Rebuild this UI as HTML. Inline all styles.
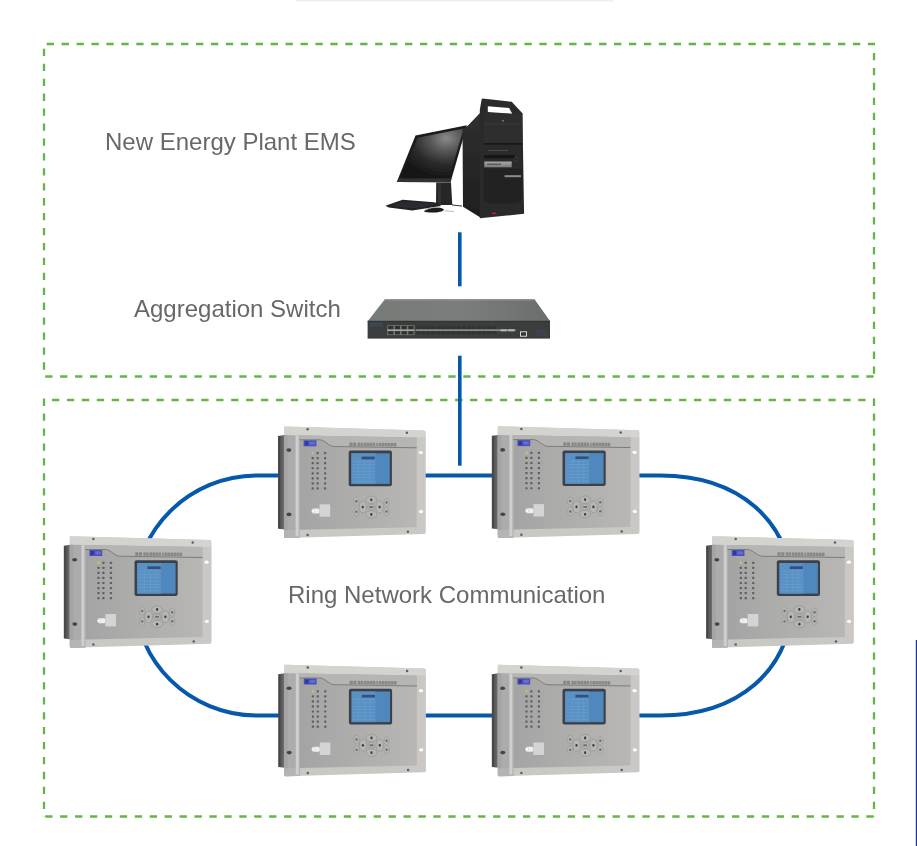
<!DOCTYPE html>
<html><head><meta charset="utf-8"><style>
html,body{margin:0;padding:0;background:#fff;}
body{width:917px;height:846px;position:relative;overflow:hidden;font-family:"Liberation Sans",sans-serif;}
.t{position:absolute;font-size:24px;color:#686868;will-change:transform;white-space:nowrap;line-height:normal;}
svg{position:absolute;left:0;top:0;}
</style></head><body>
<svg width="917" height="846" viewBox="0 0 917 846">
<defs>
<linearGradient id="sideg" x1="0" x2="1" y1="0" y2="0"><stop offset="0" stop-color="#4a4a4a"/><stop offset="0.5" stop-color="#5a5a5a"/><stop offset="1" stop-color="#747474"/></linearGradient>
<linearGradient id="panelg" x1="0" x2="1" y1="0" y2="0"><stop offset="0" stop-color="#a4a4a4"/><stop offset="0.4" stop-color="#acacab"/><stop offset="1" stop-color="#b8b7b4"/></linearGradient>
<linearGradient id="scrg" x1="0" x2="1" y1="0" y2="1"><stop offset="0" stop-color="#8fb6da"/><stop offset="1" stop-color="#6d9cc6"/></linearGradient>
<radialGradient id="monG" cx="0.72" cy="0.2" r="0.8"><stop offset="0" stop-color="#8a8a8a"/><stop offset="0.3" stop-color="#5a5a5a"/><stop offset="0.65" stop-color="#2c2c2c"/><stop offset="1" stop-color="#161616"/></radialGradient>
<linearGradient id="swTop" x1="0" x2="1" y1="0" y2="0"><stop offset="0" stop-color="#767a78"/><stop offset="0.5" stop-color="#7a7e7c"/><stop offset="1" stop-color="#6a6e6c"/></linearGradient>
<linearGradient id="towerSide" x1="0" x2="0" y1="0" y2="1"><stop offset="0" stop-color="#303030"/><stop offset="1" stop-color="#1e1e1e"/></linearGradient>
<linearGradient id="silverG" x1="0" x2="0" y1="0" y2="1"><stop offset="0" stop-color="#a8a8a8"/><stop offset="1" stop-color="#7a7a7a"/></linearGradient>
<filter id="soft" x="-10%" y="-10%" width="120%" height="120%"><feGaussianBlur stdDeviation="0.45"/></filter><filter id="soft2" x="-10%" y="-10%" width="120%" height="120%"><feGaussianBlur stdDeviation="0.35"/></filter>
<symbol id="dev" overflow="visible">
<path d="M-6 9.5 L0.5 8.6 L0.5 103 L-6 102.3 Z" fill="url(#sideg)"/>
<rect x="-5.2" y="10" width="1.2" height="91.5" fill="#3e3e3e" opacity="0.6"/>
<path d="M1.2 0 L140 3.9 Q141.5 4.1 141.5 5.5 L141.5 106.2 Q141.5 107.5 140 107.6 L1.2 111.6 Q0 111.6 0 110.4 L0 1.2 Q0 0 1.2 0 Z" fill="#c8c9c5"/>
<path d="M1.2 0 L140 3.9 Q141.5 4.1 141.5 5.5 L141.5 10.9 L0 8.6 L0 1.2 Q0 0 1.2 0 Z" fill="#d3d4d0"/>
<path d="M0 8.6 L15.6 8.9 L15.6 111.2 L1.2 111.6 Q0 111.6 0 110.4 Z" fill="#acacac"/>
<path d="M0 103.6 L15.6 103.2 L15.6 111.2 L1.2 111.6 Q0 111.6 0 110.4 Z" fill="#b4b4b2"/>
<rect x="0" y="8.6" width="3.5" height="95" fill="#a4a4a4"/>
<rect x="11.6" y="8.8" width="3" height="101" fill="#cfcfcf"/>
<path d="M132.7 10.9 L141.5 11 L141.5 106.2 L132.7 106.5 Z" fill="#cbc7c5"/>
<path d="M15.6 8.9 L132.7 10.9 L132.7 100.8 L15.6 103.2 Z" fill="url(#panelg)"/>
<path d="M15.6 8.9 L132.7 10.9 L132.7 21.3 L50.2 20 C45 20 40.5 13.3 35.5 13.3 L15.6 13.3 Z" fill="#b5b5b3"/>
<path d="M15.6 13.3 H35.5 C40.5 13.3 45 20 50.2 20 L132.7 21.3" fill="none" stroke="#7c7c7c" stroke-width="1"/>
<ellipse cx="136.8" cy="26" rx="2.1" ry="1.6" fill="#ffffff"/>
<ellipse cx="137" cy="85.1" rx="2.1" ry="1.6" fill="#ffffff"/>
<ellipse cx="4.8" cy="23.6" rx="2.5" ry="1.8" fill="#454545"/>
<ellipse cx="5" cy="87.9" rx="2.5" ry="1.8" fill="#454545"/>
<circle cx="23.6" cy="2.7" r="1.25" fill="#5e5e5e"/>
<circle cx="122.9" cy="6.2" r="1.25" fill="#5e5e5e"/>
<circle cx="23.6" cy="108.4" r="1.25" fill="#5e5e5e"/>
<circle cx="123.9" cy="105.3" r="1.25" fill="#5e5e5e"/>
<rect x="19.6" y="13.8" width="12.8" height="6" fill="#4850bc"/>
<rect x="21" y="14.8" width="3" height="4" fill="#2c3290" opacity="0.8"/><rect x="25.5" y="15.2" width="5.5" height="3" fill="#7a82d8" opacity="0.6"/>
<rect x="65.4" y="16.05" width="3.2" height="3.4" fill="#5a5a5a" opacity="0.5"/>
<rect x="69.2" y="16.09" width="3.0" height="3.4" fill="#5a5a5a" opacity="0.5"/>
<rect x="73.6" y="16.14" width="2.4" height="3.4" fill="#5a5a5a" opacity="0.5"/>
<rect x="76.4" y="16.16" width="2.4" height="3.4" fill="#5a5a5a" opacity="0.5"/>
<rect x="79.6" y="16.20" width="2.6" height="3.4" fill="#5a5a5a" opacity="0.5"/>
<rect x="82.6" y="16.23" width="2.6" height="3.4" fill="#5a5a5a" opacity="0.5"/>
<rect x="85.6" y="16.26" width="2.6" height="3.4" fill="#5a5a5a" opacity="0.5"/>
<rect x="88.6" y="16.29" width="2.6" height="3.4" fill="#5a5a5a" opacity="0.5"/>
<rect x="92.2" y="16.32" width="1.6" height="3.4" fill="#5a5a5a" opacity="0.5"/>
<rect x="94.6" y="16.35" width="2.6" height="3.4" fill="#5a5a5a" opacity="0.5"/>
<rect x="97.6" y="16.38" width="2.6" height="3.4" fill="#5a5a5a" opacity="0.5"/>
<rect x="100.6" y="16.41" width="2.6" height="3.4" fill="#5a5a5a" opacity="0.5"/>
<rect x="103.6" y="16.44" width="2.6" height="3.4" fill="#5a5a5a" opacity="0.5"/>
<rect x="106.6" y="16.47" width="2.6" height="3.4" fill="#5a5a5a" opacity="0.5"/>
<rect x="109.6" y="16.50" width="2.8" height="3.4" fill="#5a5a5a" opacity="0.5"/>
<rect x="27.60" y="25.50" width="2.2" height="2.2" rx="0.6" fill="#c4c77a"/>
<rect x="32.50" y="25.50" width="2.2" height="2.2" rx="0.6" fill="#5e5e5e"/>
<rect x="40.00" y="25.50" width="2.2" height="2.2" rx="0.6" fill="#5e5e5e"/>
<rect x="27.60" y="30.55" width="2.2" height="2.2" rx="0.6" fill="#5e5e5e"/>
<rect x="32.50" y="30.55" width="2.2" height="2.2" rx="0.6" fill="#5e5e5e"/>
<rect x="40.00" y="30.55" width="2.2" height="2.2" rx="0.6" fill="#5e5e5e"/>
<rect x="27.60" y="35.60" width="2.2" height="2.2" rx="0.6" fill="#5e5e5e"/>
<rect x="32.50" y="35.60" width="2.2" height="2.2" rx="0.6" fill="#5e5e5e"/>
<rect x="40.00" y="35.60" width="2.2" height="2.2" rx="0.6" fill="#5e5e5e"/>
<rect x="27.60" y="40.65" width="2.2" height="2.2" rx="0.6" fill="#5e5e5e"/>
<rect x="32.50" y="40.65" width="2.2" height="2.2" rx="0.6" fill="#5e5e5e"/>
<rect x="40.00" y="40.65" width="2.2" height="2.2" rx="0.6" fill="#5e5e5e"/>
<rect x="27.60" y="45.70" width="2.2" height="2.2" rx="0.6" fill="#5e5e5e"/>
<rect x="32.50" y="45.70" width="2.2" height="2.2" rx="0.6" fill="#5e5e5e"/>
<rect x="40.00" y="45.70" width="2.2" height="2.2" rx="0.6" fill="#5e5e5e"/>
<rect x="27.60" y="50.75" width="2.2" height="2.2" rx="0.6" fill="#5e5e5e"/>
<rect x="32.50" y="50.75" width="2.2" height="2.2" rx="0.6" fill="#5e5e5e"/>
<rect x="40.00" y="50.75" width="2.2" height="2.2" rx="0.6" fill="#5e5e5e"/>
<rect x="27.60" y="55.80" width="2.2" height="2.2" rx="0.6" fill="#5e5e5e"/>
<rect x="32.50" y="55.80" width="2.2" height="2.2" rx="0.6" fill="#5e5e5e"/>
<rect x="40.00" y="55.80" width="2.2" height="2.2" rx="0.6" fill="#5e5e5e"/>
<rect x="27.60" y="60.85" width="2.2" height="2.2" rx="0.6" fill="#5e5e5e"/>
<rect x="32.50" y="60.85" width="2.2" height="2.2" rx="0.6" fill="#5e5e5e"/>
<rect x="40.00" y="60.85" width="2.2" height="2.2" rx="0.6" fill="#5e5e5e"/>
<rect x="64.7" y="24.1" width="43.2" height="35.7" rx="2" fill="#3c4048"/>
<rect x="67.4" y="26.8" width="38.4" height="30.6" fill="#5088bd"/>
<rect x="67.4" y="26.8" width="24" height="30.6" fill="#5a91c5"/>
<rect x="77.6" y="30.1" width="13.2" height="2.7" fill="#34507c"/>
<rect x="68.5" y="34.6" width="22" height="0.5" fill="#8fbce6" opacity="0.35"/>
<rect x="68.5" y="37.9" width="22" height="0.5" fill="#8fbce6" opacity="0.35"/>
<rect x="68.5" y="41.2" width="22" height="0.5" fill="#8fbce6" opacity="0.35"/>
<rect x="68.5" y="44.5" width="22" height="0.5" fill="#8fbce6" opacity="0.35"/>
<rect x="68.5" y="47.8" width="22" height="0.5" fill="#8fbce6" opacity="0.35"/>
<rect x="68.5" y="51.1" width="22" height="0.5" fill="#8fbce6" opacity="0.35"/>
<rect x="68.5" y="54.4" width="22" height="0.5" fill="#8fbce6" opacity="0.35"/>
<rect x="74.2" y="33.5" width="0.5" height="23" fill="#8fbce6" opacity="0.3"/>
<rect x="80.5" y="33.5" width="0.5" height="23" fill="#8fbce6" opacity="0.3"/>
<rect x="85.5" y="33.5" width="0.5" height="23" fill="#8fbce6" opacity="0.3"/>
<ellipse cx="87.3" cy="73.39999999999999" rx="5.4" ry="3.8" fill="#b6b6b4" stroke="#8e8e8c" stroke-width="0.6"/>
<ellipse cx="87.3" cy="87.8" rx="5.4" ry="3.8" fill="#b6b6b4" stroke="#8e8e8c" stroke-width="0.6"/>
<ellipse cx="78.89999999999999" cy="80.6" rx="3.8" ry="6" fill="#b6b6b4" stroke="#8e8e8c" stroke-width="0.6"/>
<ellipse cx="95.6" cy="80.6" rx="3.8" ry="6" fill="#b6b6b4" stroke="#8e8e8c" stroke-width="0.6"/>
<ellipse cx="87.3" cy="80.6" rx="3.6" ry="2.9" fill="#b8b8b6" stroke="#909090" stroke-width="0.6"/>
<ellipse cx="87.3" cy="73.3" rx="1.1" ry="1.4" fill="#3a3a3a"/>
<ellipse cx="87.3" cy="88.0" rx="1.1" ry="1.4" fill="#3a3a3a"/>
<ellipse cx="78.7" cy="80.6" rx="1.1" ry="1.4" fill="#3a3a3a"/>
<ellipse cx="95.6" cy="80.6" rx="1.1" ry="1.4" fill="#3a3a3a"/>
<rect x="85.39999999999999" y="79.69999999999999" width="3.8" height="1.8" fill="#6a6a6a"/>
<ellipse cx="72.4" cy="74.8" rx="2.6" ry="4.2" fill="#b4b4b2" stroke="#939391" stroke-width="0.5"/>
<ellipse cx="72.4" cy="74.8" rx="1.1" ry="1.2" fill="#6a6a6a"/>
<ellipse cx="72.4" cy="85.2" rx="2.6" ry="4.2" fill="#b4b4b2" stroke="#939391" stroke-width="0.5"/>
<ellipse cx="72.4" cy="85.2" rx="1.1" ry="1.2" fill="#6a6a6a"/>
<ellipse cx="102.5" cy="76" rx="2.6" ry="4.2" fill="#b4b4b2" stroke="#939391" stroke-width="0.5"/>
<ellipse cx="102.5" cy="76" rx="1.1" ry="1.2" fill="#6a6a6a"/>
<ellipse cx="102.5" cy="85" rx="2.6" ry="4.2" fill="#b4b4b2" stroke="#939391" stroke-width="0.5"/>
<ellipse cx="102.5" cy="85" rx="1.1" ry="1.2" fill="#6a6a6a"/>
<rect x="35.6" y="77.8" width="10.6" height="12.4" fill="#d4d4d4"/>
<rect x="28" y="82" width="7.5" height="5" rx="1.5" fill="#efefef"/>
<circle cx="29.2" cy="84.5" r="1.7" fill="#fafafa" stroke="#bdbdbd" stroke-width="0.4"/>
</symbol>
</defs>
<rect x="296" y="0" width="317.5" height="1.6" fill="#efefef"/>
<!-- dashed boxes -->
<g stroke="#66b444" stroke-width="2.3" stroke-dasharray="7.30 7.63" fill="none">
<line x1="46.7" y1="44" x2="875" y2="44"/>
<line x1="44" y1="48.8" x2="44" y2="377"/>
<line x1="45.2" y1="376.5" x2="875" y2="376.5"/>
<line x1="874" y1="53" x2="874" y2="377"/>
<line x1="52" y1="400" x2="875" y2="400"/>
<line x1="44" y1="398.6" x2="44" y2="817"/>
<line x1="45.2" y1="816.5" x2="875" y2="816.5"/>
<line x1="874" y1="398.6" x2="874" y2="817"/>
</g>
<!-- vertical connectors -->
<rect x="458" y="232.3" width="3.6" height="54" fill="#0558aa"/>
<rect x="458" y="355.7" width="3.6" height="110" fill="#0558aa"/>
<!-- ring -->
<path d="M257.07 475.5 H660.07 C735.9 475.5 792.56 518.2 792.56 595.5 C792.56 672.8 735.9 715.5 660.07 715.5 H257.07 C189.96 715.5 134.77 661.83 134.77 595.5 C134.77 529.17 189.96 475.5 257.07 475.5 Z" fill="none" stroke="#0558aa" stroke-width="4"/>
<!-- right edge line -->
<rect x="915.8" y="640" width="1.2" height="206" fill="#1c3392"/>
<g filter="url(#soft2)"><path d="M415.5 135.4 L466.9 125.3 L450.5 182.2 L396.8 182 Z" fill="#1a1a1a"/>
<path d="M399 178.4 L451.5 178.6 L450.5 182.2 L396.8 182 Z" fill="#303030"/>
<path d="M417.5 137.8 L463.8 128.5 L449 177.8 L400.8 177.6 Z" fill="url(#monG)"/>
<path d="M436.2 182.5 L451 182.5 L452.3 205 L436 205 Z" fill="#262626"/>
<path d="M438 183 L441 183 L441 205 L438 205 Z" fill="#333"/>
<path d="M385.4 205.7 L402.6 199.8 L434 202.3 L439 203.7 L441 206 L412.4 210.6 L388.8 207.6 Z" fill="#202020"/>
<path d="M392 204.8 L403 201.2 L432 203.2 L436 205 L413 208.6 L396 206.8 Z" fill="#2a2c30"/>
<path d="M424 211.5 C425 207.5 441 205.8 444 209.5 C443.5 212.8 428 213.5 424 211.5 Z" fill="#1c1c1c"/>
<path d="M426 210.5 C428 207.8 434 207 440 207.5" stroke="#b0b0b0" stroke-width="0.9" fill="none"/>
<path d="M444.5 210.8 L454 211.5" stroke="#bbb" stroke-width="1" fill="none"/>
<path d="M452 205 L462 206" stroke="#333" stroke-width="1" fill="none"/>
<path d="M468 125.6 L480 113 L481.6 110 L481.6 218.3 L463 206.7 L462.5 130 Z" fill="url(#towerSide)"/>
<path d="M481.6 99.5 L482.5 98.6 L511.7 101.8 L522.4 113.3 L524.1 213.8 L479.8 218.3 L479.8 110 Z" fill="#2b2b2b"/>
<path d="M487.8 106.2 L509.1 108 L512.2 113.7 L487.8 112 Z" fill="#ffffff"/>
<path d="M484.3 113.3 L522.4 114 L522.4 143.4 L484.3 143.4 Z" fill="#2f2f2f"/>
<rect x="484.3" y="123.5" width="38" height="0.7" fill="#3c3c3c"/>
<rect x="484.3" y="143" width="38" height="1.6" fill="#141414"/>
<circle cx="502.9" cy="120.8" r="1" fill="#777"/>
<rect x="484.3" y="145.2" width="38" height="10" fill="#2c2c2c"/>
<rect x="488" y="150" width="20" height="0.8" fill="#555"/>
<rect x="484.3" y="155.3" width="30" height="3" fill="#121212"/>
<rect x="484.3" y="161.5" width="27.4" height="5.8" fill="url(#silverG)"/>
<rect x="487" y="163.6" width="14" height="1.4" fill="#4a4a4a" opacity="0.8"/>
<circle cx="516.2" cy="159.4" r="1.5" fill="#1a1a1a" stroke="#555" stroke-width="0.5"/>
<path d="M483.4 168.6 H522.4 V196 Q522.4 203.2 515 203.2 H491 Q483.4 203.2 483.4 196 Z" fill="#222222"/>
<rect x="504.5" y="175.2" width="16.5" height="2" fill="#b0b0b0" opacity="0.75"/>

<rect x="492" y="212.5" width="4" height="1.6" fill="#b02030"/>
<path d="M384.9 299.3 L534.5 299.3 L550 321 L367.9 321 Z" fill="url(#swTop)"/>
<path d="M384.9 299.3 L534.5 299.3 L535.3 300.4 L384.1 300.4 Z" fill="#8e908e"/>
<rect x="367.6" y="321" width="182.4" height="17.6" fill="#3a3e3e"/>
<rect x="367.6" y="320.8" width="182.4" height="1" fill="#2e3232"/>
<rect x="369.8" y="322.2" width="13" height="4.4" fill="#3a5570" opacity="0.45"/>
<rect x="387.3" y="325.3" width="27.2" height="9.8" fill="#7a7c76"/><rect x="387.3" y="329.4" width="27.2" height="1.6" fill="#a6a69c"/>
<rect x="388.2" y="326.0" width="5.2" height="3.2" fill="#2c3030"/>
<rect x="394.9" y="326.0" width="5.2" height="3.2" fill="#2c3030"/>
<rect x="401.6" y="326.0" width="5.2" height="3.2" fill="#2c3030"/>
<rect x="408.3" y="326.0" width="5.2" height="3.2" fill="#2c3030"/>
<rect x="388.2" y="331.2" width="5.2" height="3.2" fill="#2c3030"/>
<rect x="394.9" y="331.2" width="5.2" height="3.2" fill="#2c3030"/>
<rect x="401.6" y="331.2" width="5.2" height="3.2" fill="#2c3030"/>
<rect x="408.3" y="331.2" width="5.2" height="3.2" fill="#2c3030"/>
<rect x="415.6" y="329.3" width="100" height="1.8" fill="#8c8c84"/>
<rect x="416.2" y="326.3" width="4" height="2.6" fill="#2e3234"/>
<rect x="416.2" y="331.3" width="4" height="2.6" fill="#2e3234"/>
<rect x="421.2" y="326.3" width="4" height="2.6" fill="#2e3234"/>
<rect x="421.2" y="331.3" width="4" height="2.6" fill="#2e3234"/>
<rect x="426.2" y="326.3" width="4" height="2.6" fill="#2e3234"/>
<rect x="426.2" y="331.3" width="4" height="2.6" fill="#2e3234"/>
<rect x="431.2" y="326.3" width="4" height="2.6" fill="#2e3234"/>
<rect x="431.2" y="331.3" width="4" height="2.6" fill="#2e3234"/>
<rect x="436.5" y="326.3" width="4" height="2.6" fill="#2e3234"/>
<rect x="436.5" y="331.3" width="4" height="2.6" fill="#2e3234"/>
<rect x="441.5" y="326.3" width="4" height="2.6" fill="#2e3234"/>
<rect x="441.5" y="331.3" width="4" height="2.6" fill="#2e3234"/>
<rect x="446.5" y="326.3" width="4" height="2.6" fill="#2e3234"/>
<rect x="446.5" y="331.3" width="4" height="2.6" fill="#2e3234"/>
<rect x="451.5" y="326.3" width="4" height="2.6" fill="#2e3234"/>
<rect x="451.5" y="331.3" width="4" height="2.6" fill="#2e3234"/>
<rect x="456.8" y="326.3" width="4" height="2.6" fill="#2e3234"/>
<rect x="456.8" y="331.3" width="4" height="2.6" fill="#2e3234"/>
<rect x="461.8" y="326.3" width="4" height="2.6" fill="#2e3234"/>
<rect x="461.8" y="331.3" width="4" height="2.6" fill="#2e3234"/>
<rect x="466.8" y="326.3" width="4" height="2.6" fill="#2e3234"/>
<rect x="466.8" y="331.3" width="4" height="2.6" fill="#2e3234"/>
<rect x="471.8" y="326.3" width="4" height="2.6" fill="#2e3234"/>
<rect x="471.8" y="331.3" width="4" height="2.6" fill="#2e3234"/>
<rect x="477.1" y="326.3" width="4" height="2.6" fill="#2e3234"/>
<rect x="477.1" y="331.3" width="4" height="2.6" fill="#2e3234"/>
<rect x="482.1" y="326.3" width="4" height="2.6" fill="#2e3234"/>
<rect x="482.1" y="331.3" width="4" height="2.6" fill="#2e3234"/>
<rect x="487.1" y="326.3" width="4" height="2.6" fill="#2e3234"/>
<rect x="487.1" y="331.3" width="4" height="2.6" fill="#2e3234"/>
<rect x="492.1" y="326.3" width="4" height="2.6" fill="#2e3234"/>
<rect x="492.1" y="331.3" width="4" height="2.6" fill="#2e3234"/>
<rect x="500.5" y="329.3" width="6.4" height="2" fill="#b8b8b0"/>
<rect x="508.1" y="329.3" width="6.4" height="2" fill="#b8b8b0"/>
<rect x="520" y="331.3" width="7" height="5.4" fill="#d8d8d8"/>
<rect x="521" y="332.3" width="5" height="3.4" fill="#2e3234"/>
<rect x="536" y="329.6" width="11" height="6.4" fill="#3e5266" opacity="0.25"/></g>
<g filter="url(#soft)"><use href="#dev" x="284.0" y="426.5"/>
<use href="#dev" x="497.8" y="426.3"/>
<use href="#dev" x="69.8" y="536.2"/>
<use href="#dev" x="712.1" y="536.2"/>
<use href="#dev" x="284.2" y="664.7"/>
<use href="#dev" x="497.8" y="664.7"/></g>
</svg>
<div class="t" style="left:105px;top:127.8px">New Energy Plant EMS</div>
<div class="t" style="left:134px;top:295px">Aggregation Switch</div>
<div class="t" style="left:288px;top:580.6px">Ring Network Communication</div>
</body></html>
